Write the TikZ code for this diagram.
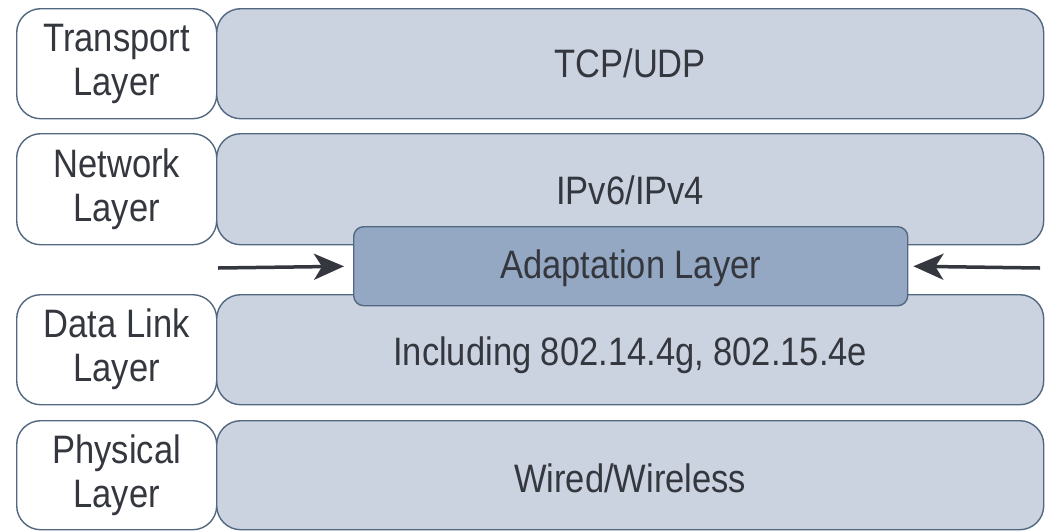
\documentclass[tikz,border=0pt]{standalone}
\usepackage{fontspec}
\setmainfont{Liberation Sans}
\usetikzlibrary{arrows.meta}
\definecolor{boxfill}{RGB}{203,211,225}
\definecolor{adaptfill}{RGB}{148,168,196}
\definecolor{edge}{RGB}{82,104,128}
\definecolor{txt}{RGB}{52,55,62}
\newcommand{\vsc}[1]{\scalebox{1}[1.15]{#1}}
\begin{document}
\begin{tikzpicture}[x=1pt,y=-1pt,
  every node/.style={text=txt, font=\fontsize{34.5}{44}\selectfont},
  lab/.style={draw=edge, line width=1.4pt, fill=white, rounded corners=24pt, anchor=north west, minimum width=200pt, align=center, inner sep=0pt},
  layerbox/.style={draw=edge, line width=1.4pt, fill=boxfill, rounded corners=24pt, anchor=north west, minimum width=827pt, inner sep=0pt},
  adaptbox/.style={draw=edge, line width=1.4pt, fill=adaptfill, rounded corners=10pt, anchor=north west, minimum width=554pt, minimum height=79pt, inner sep=0pt},
  arr/.style={draw=txt, line width=3.5pt, -{Stealth[length=30pt,width=26pt,inset=8pt]}}
]
\useasboundingbox (0,0) rectangle (1048,531);
\fill[white] (0,0) rectangle (1048,531);
% row 1
\node[lab, minimum height=110pt] (tl) at (16,8) {\vsc{Transport}\\\vsc{Layer}};
\node[layerbox, minimum height=110pt] (tb) at (216,8) {\vsc{TCP/UDP}};
% row 2
\node[lab, minimum height=111pt] (nl) at (16,133) {\vsc{Network}\\\vsc{Layer}};
\node[layerbox, minimum height=111pt] (nb) at (216,133) {};
\node at ([yshift=-1pt]nb.center) (nt) {\vsc{IPv6/IPv4}};
% row 3
\node[lab, minimum height=110pt] (dl) at (16,294) {\vsc{Data Link}\\\vsc{Layer}};
\node[layerbox, minimum height=110pt] (db) at (216,294) {};
\node at ([yshift=-6pt]db.center) (dt) {\vsc{Including 802.14.4g, 802.15.4e}};
% row 4
\node[lab, minimum height=109pt] (pl) at (16,420) {\vsc{Physical}\\\vsc{Layer}};
\node[layerbox, minimum height=109pt] (pb) at (216,420) {};
\node at ([yshift=-3pt]pb.center) (pt) {\vsc{Wired/Wireless}};
% adaptation
\node[adaptbox] (ad) at (353,226) {};
\node at ([yshift=-2pt]ad.center) (at) {\vsc{Adaptation Layer}};
\coordinate (la) at (218,268);
\coordinate (ra) at (1040,268);
\draw[arr, shorten >=9pt] (la) -- (ad.west);
\draw[arr, shorten >=5pt] (ra) -- (ad.east);
\end{tikzpicture}
\end{document}
